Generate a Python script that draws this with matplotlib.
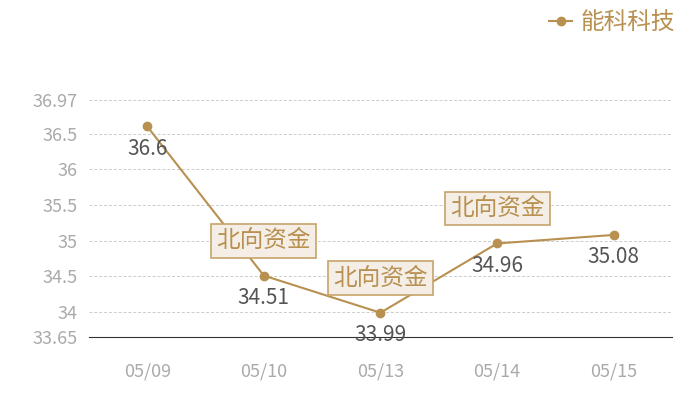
import matplotlib
matplotlib.use("Agg")
import matplotlib.pyplot as plt

plt.rcParams['font.family'] = ['Noto Sans CJK SC', 'DejaVu Sans']
plt.rcParams['font.weight'] = 'light'

dates = ["05/09", "05/10", "05/13", "05/14", "05/15"]
prices = [36.6, 34.51, 33.99, 34.96, 35.08]
marked = ["05/10", "05/13", "05/14"]
mark_text = "北向资金"
yticks = [33.65, 34, 34.5, 35, 35.5, 36, 36.5, 36.97]
series_name = "能科科技"

gold = "#b8904f"

fig = plt.figure(figsize=(7, 4), dpi=100)
ax = fig.add_axes([0.127, 0.1575, 0.833, 0.5925])

x = list(range(len(dates)))
ax.plot(x, prices, color=gold, lw=1.5, marker="o", ms=6, label=series_name)
ax.set_xlim(-0.5, len(dates) - 0.5)
ax.set_ylim(yticks[0], yticks[-1])
ax.set_yticks(yticks)
ax.set_yticklabels([f"{v:g}" for v in yticks])
ax.set_xticks(x)
ax.set_xticklabels(dates)
ax.tick_params(length=0, labelsize=13, colors="#aaaaaa", pad=8)
ax.tick_params(axis="x", pad=18)
for s in ["top", "right", "left"]:
    ax.spines[s].set_visible(False)
ax.spines["bottom"].set_color("#333333")
for v in yticks[1:]:
    ax.axhline(v, color="#cccccc", lw=0.7, ls=(0, (3, 2)), zorder=0)

for i, v in enumerate(prices):
    ax.annotate(f"{v:g}", (i, v), xytext=(0, -16), textcoords="offset points",
                ha="center", va="center", fontsize=15, color="#555555")
    if dates[i] in marked:
        ax.annotate(mark_text, (i, v), xytext=(0, 25), textcoords="offset points",
                    ha="center", va="center", fontsize=17, color=gold,
                    bbox=dict(boxstyle="square,pad=0.22", fc="#f4eee7", ec="#c7a36b", lw=1.2))

leg = ax.legend(loc="upper right", bbox_to_anchor=(0.995, 1.025), bbox_transform=fig.transFigure,
                frameon=False, fontsize=17, handlelength=1.0, handletextpad=0.35)
for t in leg.get_texts():
    t.set_color(gold)

fig.savefig("out.png", dpi=100)
